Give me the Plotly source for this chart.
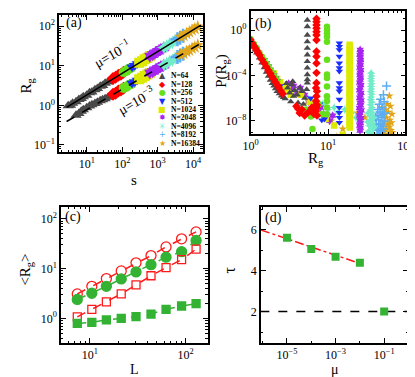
import plotly.graph_objects as go

# ---------------- panel (a): Rg vs s ----------------
N_LABELS = ["N=64", "N=128", "N=256", "N=512", "N=1024", "N=2048", "N=4096", "N=8192", "N=16384"]
COLORS = ["#4a4a4a", "#ff0000", "#66e01a", "#1a2eff", "#dcea00", "#a626f0", "#72ecc8", "#5aacf5", "#e0a61a"]
SYMBOLS = ["triangle-up", "diamond", "circle", "triangle-down", "square", "hexagram", "star-diamond", "cross-thin-open", "star"]
GLYPHS = ["▲", "◆", "●", "▼", "■", "✸", "✳", "+", "★"]

A_S = [
    [3, 3.5, 4, 5, 6, 7, 8, 10, 12, 14, 17, 20, 24, 28, 33, 40, 48],
    [55, 65, 78, 92, 108],
    [110, 130, 155, 180],
    [190, 225, 265, 310, 360],
    [300, 360, 430, 510, 600],
    [600, 720, 860, 1030, 1230, 1470],
    [1500, 1800, 2150, 2600, 3100, 3700],
    [3600, 4300, 5200],
    [4500, 5400, 6500, 7800, 9300, 11200, 13500],
]
A_RG_HI = [
    [0.97, 1.01, 1.13, 1.23, 1.40, 1.49, 1.65, 1.80, 2.07, 2.18, 2.49, 2.65, 3.02, 3.18, 3.60, 3.88, 4.40],
    [4.75, 5.10, 5.75, 6.15, 6.85],
    [6.9, 7.45, 8.35, 8.9],
    [9.35, 10.1, 11.2, 12.0, 13.3],
    [12.0, 13.1, 14.6, 15.8, 17.5],
    [17.6, 19.1, 21.4, 23.3, 26.1, 28.4],
    [29.2, 31.6, 35.5, 38.8, 43.4, 47.1],
    [47, 51, 57.5],
    [53.5, 58, 65.5, 71, 79.5, 86.5, 97],
]
A_RG_LO = [
    [None, None, None, 0.56, 0.62, 0.71, 0.77, 0.87, 0.96, 1.03, 1.12, 1.20, 1.30, 1.38, 1.47, 1.60, 1.74],
    [1.92, 2.03, 2.31, 2.44, 2.72],
    [2.74, 2.92, 3.28, 3.46],
    [3.64, 3.9, 4.33, 4.6, 5.07],
    [4.6, 4.98, 5.55, 5.98, 6.6],
    [6.6, 7.15, 7.95, 8.6, 9.6, 10.3],
    [10.6, 11.5, 12.8, 13.9, 15.5, 16.8],
    [16.7, 18.1, 20.2],
    [18.9, 20.3, 22.9, 24.6, 27.5, 29.7, 33.3],
]
FIT_S = [2.7, 16500]
FIT_HI = [0.89, 106]
FIT_LO = [0.39, 37]

# ---------------- panel (b): P(Rg) vs Rg ----------------
B_RG = [
    [1.0, 1.05, 1.1, 1.15, 1.2, 1.3, 1.4, 1.5, 1.6, 1.7, 1.8, 1.9, 2.0, 2.1, 2.2, 2.35, 2.5, 2.65, 2.8,
     3.0, 3.2, 3.4, 3.7, 4.0, 4.3, 4.6, 5.0, 3.3, 3.6, 4.1, 4.8, 5.3, 2.9, 3.5,
     5.4, 5.4, 5.4, 5.4, 5.4, 5.4, 5.4, 5.4, 5.4, 5.4, 5.4],
    [1.0, 1.05, 1.1, 1.15, 1.2, 1.25, 1.3, 1.4, 1.5, 1.6, 1.7, 1.8, 1.9, 2.0, 2.1, 2.2, 2.3, 2.45, 2.6,
     3.9, 4.3, 4.6, 5.0, 5.6, 6.2, 6.6, 4.1,
     7.1, 7.1, 7.1, 7.1, 7.1, 7.1, 7.1, 7.1, 7.1, 7.1, 7.1, 7.1, 7.0, 7.2, 7.1, 7.0, 7.2, 7.1, 7.0, 7.2],
    [1.0, 1.1, 1.2, 1.3, 1.4, 1.5, 1.6, 1.7, 1.8, 1.9, 2.0, 2.1, 2.2,
     5.2, 6.0, 6.5, 7.6, 8.4, 6.3,
     9.7, 9.7, 9.7, 9.7, 9.7, 9.7, 9.7, 9.7, 9.7, 9.7, 9.7, 9.7, 9.7],
    [1.5, 1.6, 1.7, 1.8, 1.9, 2.0, 2.1, 2.2, 2.4,
     6.0, 7.8, 9.0, 8.3, 9.0,
     14, 14, 14, 14, 14, 14, 14, 14, 14, 14, 14, 14, 14, 14, 14],
    [2.0, 2.2, 2.4, 2.6, 2.8, 3.0, 3.3,
     4.5, 5.8, 9.3, 12.0, 15.5,
     19.0, 19.2, 18.9, 19.1, 19.0, 19.2, 18.9, 19.1, 19.0, 19.2, 18.9, 19.1, 19.0, 19.2, 18.9, 19.1,
     19.0, 19.2, 18.9, 19.1, 19.0, 19.2, 18.9, 19.1, 19.0, 19.2, 18.9, 19.1, 19.0, 19.2, 18.9, 19.1],
    [3.1, 3.4, 3.6, 4.0, 4.4, 5.0, 5.6, 6.8, 8.0, 10.5, 11.5, 8.8,
     26.0, 26.3, 25.8, 26.1, 26.4, 25.9, 26.2, 25.7, 26.5, 26.0, 25.8, 26.3, 26.1, 25.6, 26.6, 26.0,
     25.5, 26.7, 26.2, 25.6, 26.8, 25.9, 26.4, 25.4, 26.9, 26.0, 25.5, 26.6, 25.8, 26.3, 25.6, 26.2, 25.9],
    [5.5, 7.0, 8.5, 10.0, 12.0, 13.5, 16.5, 20.0, 23.0,
     36.0, 36.3, 35.8, 36.1, 36.4, 35.9, 36.2, 35.7, 36.5, 36.0, 35.6, 36.6, 35.5, 36.8, 35.3, 37.0,
     35.0, 37.3, 34.6, 37.6, 34.2, 38.0, 33.8, 38.4,
     33.0, 39.0, 32.5, 39.5, 33.5],
    [57, 52, 48, 53, 46, 50, 44, 47, 51, 43, 49, 45, 53, 47, 42, 50, 45, 48, 43, 51, 46, 49, 44, 52, 41, 54],
    [62, 50, 58, 64, 55, 60, 67, 52, 57, 63, 66, 54, 59, 62, 56, 65, 53, 60, 64, 57, 61, 55, 68, 50,
     13, 15.5, 11, 24, 30],
]
B_P = [
    [0.11, 0.06, 0.033, 0.018, 0.01, 3.5e-3, 1.3e-3, 5e-4, 2e-4, 9e-5, 4e-5, 2e-5, 1.2e-5, 7e-6, 4e-6, 2.5e-6, 1.6e-6, 1.2e-6, 9e-7,
     8e-6, 3e-6, 1.5e-5, 5e-6, 2e-6, 8e-6, 4e-6, 1e-6, 5e-7, 1.5e-6, 4e-7, 3e-7, 6e-6, 2e-5, 3e-5,
     7.4, 2.0, 0.36, 0.095, 0.025, 6.6e-3, 1.7e-3, 4.6e-4, 1.2e-4, 4.4e-5, 2.2e-5],
    [0.13, 0.07, 0.042, 0.025, 0.0155, 9.5e-3, 6.2e-3, 2.6e-3, 1.2e-3, 5.6e-4, 2.8e-4, 1.5e-4, 7.8e-5, 4.4e-5, 2.5e-5, 1.5e-5, 9e-6, 4.5e-6, 2.5e-6,
     2e-7, 5e-8, 1e-7, 3e-8, 6e-8, 1.5e-7, 4e-8, 1.2e-7,
     10, 5.4, 2.8, 1.4, 0.7, 0.36, 0.13, 0.013, 4.7e-3, 1.2e-3, 1.7e-4, 2.2e-5, 8e-6, 4.2e-6, 1.5e-6, 5.6e-7, 2.5e-7, 1.5e-7, 7.6e-8, 3e-8],
    [0.15, 0.06, 0.025, 0.01, 4.5e-3, 2.2e-3, 1.1e-3, 5.5e-4, 3e-4, 1.6e-4, 9e-5, 5e-5, 3e-5,
     1e-7, 2.5e-8, 8e-8, 3e-7, 4e-8, 2e-9,
     1.9, 1.0, 0.51, 0.26, 0.095, 2.4e-3, 1.2e-4, 6e-5, 1.1e-5, 1.5e-6, 5.6e-7, 1.5e-7, 3.9e-8],
    [2.5e-3, 1.3e-3, 6.5e-4, 3.5e-4, 1.9e-4, 1.1e-4, 6e-5, 3.5e-5, 1.2e-5,
     1e-6, 3e-7, 5e-10, 1.2e-8, 1.5e-8,
     0.069, 0.035, 0.018, 4.7e-3, 1.2e-3, 4.6e-4, 2.3e-4, 2.2e-5, 8.1e-6, 4.2e-6, 7.9e-7, 1.5e-7, 5.4e-8, 2e-8, 7.2e-9],
    [1.5e-4, 5e-5, 2.5e-5, 1.2e-5, 8e-6, 5e-6, 2e-6,
     2e-6, 5e-7, 1.5e-8, 4e-9, 6e-10,
     0.05, 0.03, 0.017, 0.01, 0.006, 0.0035, 0.002, 0.0012, 7e-4, 4e-4, 2.3e-4, 1.3e-4, 7.5e-5, 4.5e-5, 2.5e-5, 1.5e-5,
     8.5e-6, 5e-6, 2.9e-6, 1.7e-6, 1e-6, 5.8e-7, 3.4e-7, 2e-7, 1.2e-7, 7e-8, 4e-8, 2.4e-8, 1.4e-8, 8e-9, 4.6e-9, 2.7e-9],
    [2e-5, 5e-6, 1.2e-5, 3e-6, 8e-6, 2e-6, 5e-7, 3e-7, 1.5e-7, 1e-8, 3e-8, 4e-8,
     0.018, 0.011, 0.0065, 0.004, 0.0024, 0.0014, 8.5e-4, 5e-4, 3e-4, 1.8e-4, 1.1e-4, 6.5e-5, 4e-5, 2.4e-5, 1.4e-5, 8.5e-6,
     5e-6, 3e-6, 1.8e-6, 1.1e-6, 6.5e-7, 4e-7, 2.4e-7, 1.4e-7, 8.5e-8, 5e-8, 3e-8, 1.8e-8, 1.1e-8, 6.5e-9, 4e-9, 2.4e-9, 1.4e-9],
    [1e-6, 5e-7, 3e-7, 1e-7, 1.5e-7, 6e-8, 1e-7, 5e-8, 2e-8,
     1.6e-4, 9e-5, 5.5e-5, 3.2e-5, 1.9e-5, 1.1e-5, 6.5e-6, 3.8e-6, 2.2e-6, 1.3e-6, 7.5e-7, 4.5e-7, 2.6e-7, 1.5e-7, 9e-8, 5.5e-8,
     3.2e-8, 1.9e-8, 1.1e-8, 6.5e-9, 3.8e-9, 2.2e-9, 1.3e-9, 7.5e-10,
     5e-8, 2e-8, 8e-9, 3e-9, 1e-9],
    [1.2e-5, 2e-6, 8e-7, 5e-7, 3e-7, 1.5e-7, 1e-7, 6e-8, 4e-8, 3e-8, 2e-8, 1.2e-8, 1e-8, 6e-9, 5e-9, 3.5e-9,
     2e-9, 1.2e-9, 8e-10, 6e-10, 4e-10, 2.5e-10, 1.5e-9, 2e-9, 2e-8, 5e-8],
    [1.6e-6, 1.5e-7, 3e-7, 2e-7, 1e-7, 6e-8, 4e-8, 3e-8, 2e-8, 1.2e-8, 7e-9, 8e-9, 5e-9, 3e-9, 2e-9, 1.5e-9, 1e-9,
     7e-10, 5e-10, 3.5e-10, 2e-10, 1.5e-10, 1e-9, 4e-9,
     4e-10, 2e-9, 1e-8, 5e-8, 2e-8],
]

# ---------------- panel (c): <Rg> vs L ----------------
L = [7.4, 10.5, 14.9, 21.3, 30.4, 43.6, 62.6, 91, 129]
RG_RED_CIRC = [3.1, 4.4, 6.3, 9.0, 13.1, 18.3, 27.4, 39.8, 55]
RG_GRN_CIRC = [2.4, 3.2, 4.4, 6.2, 8.6, 12, 17, 22, 37]
RG_RED_SQ = [1.07, 1.52, 2.15, 3.1, 4.7, 7.2, 10.5, 15.2, 24.7]
RG_GRN_SQ = [0.79, 0.83, 0.93, 1.0, 1.08, 1.22, 1.52, 1.77, 1.97]

# ---------------- panel (d): tau vs mu ----------------
MU = [1e-5, 1e-4, 1e-3, 1e-2, 1e-1]
TAU = [5.6, 5.05, 4.68, 4.38, 2.0]
FIT_MU = [8.5e-7, 1e-2]
FIT_TAU = [5.98, 4.35]
REF_MU = [8e-7, 1.0]
REF_TAU = [2, 2]

SERIF = "Liberation Serif, Times New Roman, serif"
RED = "#ff1a1a"
GREEN = "#33b233"

fig = go.Figure()

# (a) clouds, lower then upper
for i in range(len(N_LABELS)):
    for rg in (A_RG_LO[i], A_RG_HI[i]):
        fig.add_trace(go.Scatter(
            x=A_S[i], y=rg, mode="markers", xaxis="x", yaxis="y",
            marker=dict(symbol=SYMBOLS[i], size=10, color=COLORS[i],
                        line=dict(width=2.5 if SYMBOLS[i].endswith("open") else 0, color=COLORS[i])),
            showlegend=False, hoverinfo="skip"))
fig.add_trace(go.Scatter(x=FIT_S, y=FIT_HI, mode="lines", xaxis="x", yaxis="y",
                         line=dict(color="black", width=1.5), showlegend=False))
fig.add_trace(go.Scatter(x=FIT_S, y=FIT_LO, mode="lines", xaxis="x", yaxis="y",
                         line=dict(color="black", width=1.5, dash="dash"), showlegend=False))

# (b) larger N first so the small-N decay sits on top
order = [8, 7, 6, 5, 4, 3, 2, 0, 1]
for i in order:
    fig.add_trace(go.Scatter(
        x=B_RG[i], y=B_P[i], mode="markers", xaxis="x2", yaxis="y2",
        marker=dict(symbol=SYMBOLS[i], size=6.5, color=COLORS[i],
                    line=dict(width=1.5 if SYMBOLS[i].endswith("open") else 0, color=COLORS[i])),
        showlegend=False, hoverinfo="skip"))

# (c)
for y, col, sym, size in [(RG_RED_CIRC, RED, "circle-open", 10), (RG_GRN_CIRC, GREEN, "circle", 10),
                          (RG_RED_SQ, RED, "square-open", 8), (RG_GRN_SQ, GREEN, "square", 8)]:
    fig.add_trace(go.Scatter(
        x=L, y=y, mode="lines+markers", xaxis="x3", yaxis="y3",
        line=dict(color=col, width=1.5, dash="dash"),
        marker=dict(symbol=sym, size=size, color=col, line=dict(width=1.3, color=col)),
        showlegend=False))

# (d)
fig.add_trace(go.Scatter(x=REF_MU, y=REF_TAU, mode="lines", xaxis="x4", yaxis="y4",
                         line=dict(color="black", width=1.5, dash="dash"), showlegend=False))
fig.add_trace(go.Scatter(x=FIT_MU, y=FIT_TAU, mode="lines", xaxis="x4", yaxis="y4",
                         line=dict(color=RED, width=1.5, dash="dashdot"), showlegend=False))
fig.add_trace(go.Scatter(x=MU, y=TAU, mode="markers", xaxis="x4", yaxis="y4",
                         marker=dict(symbol="square", size=8, color=GREEN), showlegend=False))


def sup(e):
    return "10<sup>%s</sup>" % (str(e).replace("-", "−"))


def axis(domain, anchor, rng, tickvals, ticktext, minor_dtick, log=True):
    return dict(
        domain=domain, anchor=anchor, range=rng,
        type="log" if log else "linear",
        showline=True, linecolor="black", linewidth=1.5, mirror="allticks",
        ticks="inside", ticklen=5, tickwidth=1, tickcolor="black",
        showgrid=False, zeroline=False,
        tickmode="array", tickvals=tickvals, ticktext=ticktext,
        tickfont=dict(family=SERIF, size=12, color="black"),
        minor=dict(ticks="inside", ticklen=2.5, tickcolor="black", tickwidth=1, showgrid=False, dtick=minor_dtick),
    )


fig.update_layout(
    width=415, height=377,
    margin=dict(l=0, r=0, t=0, b=0),
    paper_bgcolor="white", plot_bgcolor="white",
    showlegend=False,
    xaxis=axis([0.108, 0.468], "y", [0.22, 4.27],
               [10, 100, 1000, 10000], [sup(1), sup(2), sup(3), sup(4)], "D1"),
    yaxis=axis([0.618, 0.981], "x", [-1.18, 2.28],
               [0.1, 1, 10, 100], [sup(-1), sup(0), sup(1), sup(2)], "D1"),
    xaxis2=axis([0.588, 0.976], "y2", [0, 2],
                [1, 10, 100], [sup(0), sup(1), sup(2)], "D1"),
    yaxis2=axis([0.666, 0.992], "x2", [-9.14, 1.67],
                [1e-8, 1e-4, 1], [sup(-8), sup(-4), sup(0)], 1),
    xaxis3=axis([0.113, 0.480], "y3", [0.70, 2.23],
                [10, 100], [sup(1), sup(2)], "D1"),
    yaxis3=axis([0.111, 0.472], "x3", [-0.5, 2.24],
                [1, 10, 100], [sup(0), sup(1), sup(2)], "D1"),
    xaxis4=axis([0.614, 0.983], "y4", [-6.07, -0.01],
                [1e-5, 1e-3, 1e-1], [sup(-5), sup(-3), sup(-1)], 1),
    yaxis4=axis([0.111, 0.472], "x4", [0.46, 7.1],
                [2, 4, 6], ["2", "4", "6"], 1, log=False),
)


def txt(text, xpx, ypx, size=15, angle=0, xanchor="center", family=SERIF, color="black"):
    return dict(text=text, x=xpx / 415, y=1 - ypx / 377, xref="paper", yref="paper",
                xanchor=xanchor, yanchor="middle", textangle=angle, showarrow=False,
                font=dict(family=family, size=size, color=color))


ann = [
    # panel tags
    txt("(a)", 50, 15, 14, xanchor="left"),
    txt("(b)", 247, 16, 14, xanchor="left"),
    txt("(c)", 49, 209, 14, xanchor="left"),
    txt("(d)", 257, 210, 14, xanchor="left"),
    # axis titles
    txt("R<sub>g</sub>", 11, 78, 15, -90),
    txt("s", 123, 172, 15),
    txt("P(R<sub>g</sub>)", 214, 63, 15, -90),
    txt("R<sub>g</sub>", 312, 151, 15),
    txt("&lt;R<sub>g</sub>&gt;", 10, 262, 15, -90),
    txt("L", 123, 361, 14),
    txt("τ", 222, 262, 16, -90),
    txt("μ", 332, 361, 14),
    # mu labels in (a)
    txt("μ=10<sup>−1</sup>", 100, 45, 14, -30),
    txt("μ=10<sup>−3</sup>", 125, 92, 14, -30),
]
# compact legend for panel (a)
for i, lab in enumerate(N_LABELS):
    ypx = 68 + i * 8.4
    ann.append(txt(GLYPHS[i], 152, ypx, 8, family="DejaVu Sans", color=COLORS[i]))
    ann.append(txt("<b>%s</b>" % lab, 159, ypx, 7.6, xanchor="left"))
fig.update_layout(annotations=ann)

fig.write_html("out.html")
